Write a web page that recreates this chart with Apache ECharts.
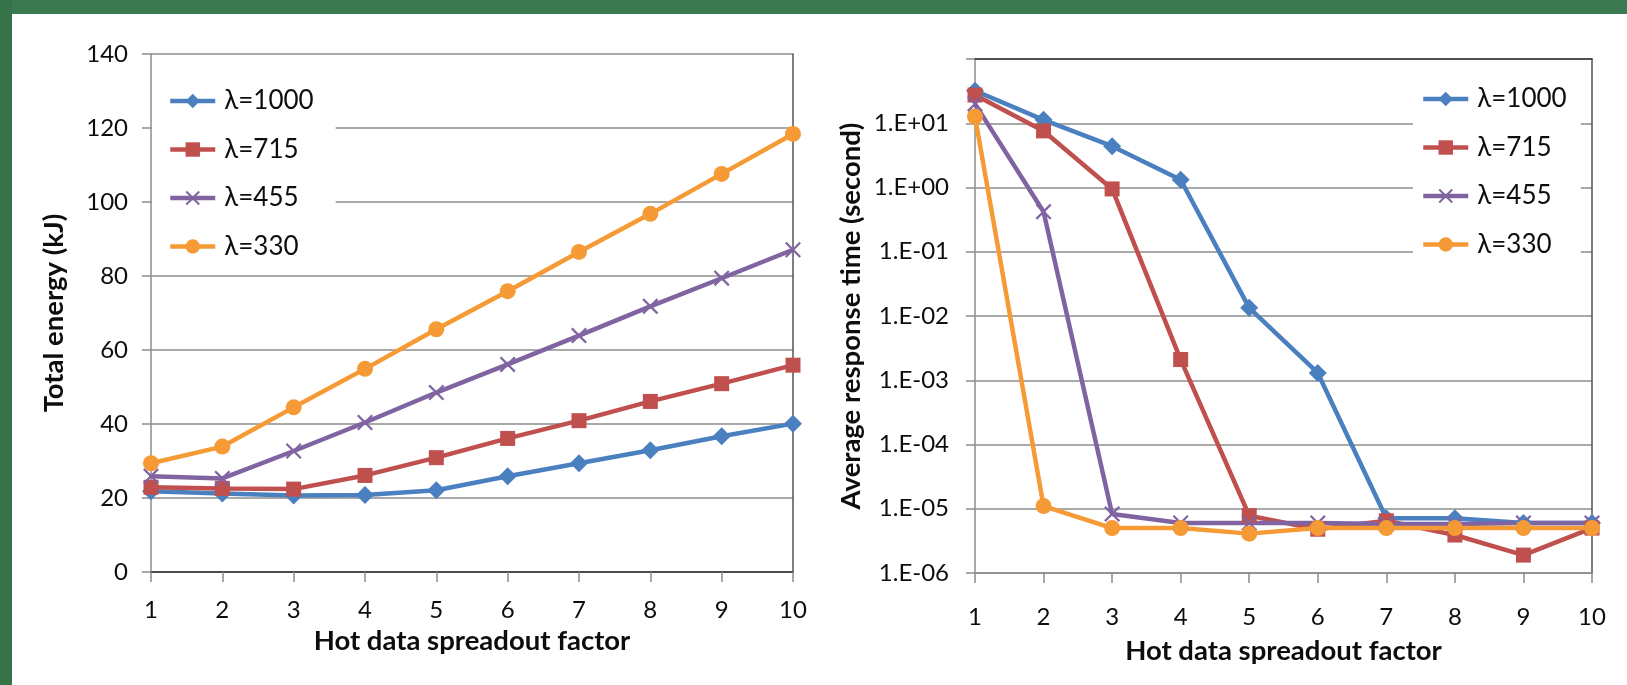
<!DOCTYPE html>
<html>
<head>
<meta charset="utf-8">
<script src="https://cdn.jsdelivr.net/npm/echarts@6/dist/echarts.min.js"></script>
<style>
  html, body { margin: 0; padding: 0; background: #fff; }
  #main { width: 1627px; height: 685px; }
</style>
</head>
<body>
<div id="main"></div>
<script>
// spreadout factor on x axis
const factors = ['1', '2', '3', '4', '5', '6', '7', '8', '9', '10'];
const seriesNames = ['λ=1000', 'λ=715', 'λ=455', 'λ=330'];

// total energy (kJ), left chart
const energy1000 = [21.8, 21.2, 20.7, 20.8, 22.1, 25.9, 29.4, 32.9, 36.7, 40.1];
const energy715 = [22.9, 22.6, 22.4, 26.1, 30.9, 36.1, 40.9, 46.1, 50.9, 55.9];
const energy455 = [25.9, 25.3, 32.7, 40.4, 48.5, 56.1, 63.9, 71.8, 79.4, 87.1];
const energy330 = [29.4, 33.9, 44.5, 54.9, 65.6, 75.9, 86.5, 96.8, 107.6, 118.4];

// average response time (second), right chart, log scale
const resp1000 = [32, 11.3, 4.4, 1.32, 0.0134, 0.0013, 7.1e-6, 7.1e-6, 6e-6, 6e-6];
const resp715 = [27.5, 7.6, 0.95, 0.0021, 7.8e-6, 4.8e-6, 6.5e-6, 3.9e-6, 1.9e-6, 5e-6];
const resp455 = [20, 0.42, 8.3e-6, 6e-6, 6e-6, 6e-6, 5.8e-6, 5.8e-6, 6e-6, 6e-6];
const resp330 = [12.7, 1.1e-5, 5e-6, 5e-6, 4.1e-6, 5e-6, 5e-6, 5e-6, 5e-6, 5e-6];

const energyTicks = { min: 0, max: 140, interval: 20 };
const respTicks = { min: 1e-6, max: 100 };

const colors = ['#4a7fc0', '#c0504d', '#8064a2', '#f59a35'];
const xMark = 'path://M1,0L5,4L9,0L10,1L6,5L10,9L9,10L5,6L1,10L0,9L4,5L0,1Z';
const symbols = ['diamond', 'rect', xMark, 'circle'];
const symbolSizes = [18, 15, 16, 16];

const font = 'Lato, "Noto Sans", sans-serif';
const gridGray = '#8c8c8c';
const textColor = '#0d0d0d';

function expLabel(v) {
  const e = Math.round(Math.log10(v));
  if (e >= 2) return '';
  const a = Math.abs(e);
  return '1.E' + (e < 0 ? '-' : '+') + (a < 10 ? '0' + a : a);
}

function bottomAxis(grid, labelMargin, nameGap) {
  return {
    gridIndex: grid,
    type: 'category',
    data: factors,
    boundaryGap: false,
    axisLine: { lineStyle: { color: gridGray, width: 1.5 } },
    axisTick: { show: true, length: 10, lineStyle: { color: gridGray, width: 1.5 } },
    axisLabel: { color: textColor, fontFamily: font, fontSize: 24, margin: labelMargin },
    name: 'Hot data spreadout factor',
    nameLocation: 'middle',
    nameGap: nameGap,
    nameTextStyle: { color: textColor, fontFamily: font, fontSize: 27.5, fontWeight: 'bold' }
  };
}

function topAxis(grid) {
  return {
    gridIndex: grid,
    type: 'category',
    data: factors,
    position: 'top',
    boundaryGap: false,
    axisLine: { lineStyle: { color: '#333', width: 1.5 } },
    axisTick: { show: false },
    axisLabel: { show: false }
  };
}

function rightAxis(grid, type, range) {
  return Object.assign({
    gridIndex: grid,
    type: type,
    position: 'right',
    axisLine: { show: true, lineStyle: { color: '#555', width: 1.5 } },
    axisTick: { show: false },
    axisLabel: { show: false },
    splitLine: { show: false }
  }, range);
}

function makeSeries(datas, xi, yi) {
  return datas.map(function (d, i) {
    return {
      name: seriesNames[i],
      type: 'line',
      xAxisIndex: xi,
      yAxisIndex: yi,
      data: d,
      symbol: symbols[i],
      symbolSize: symbolSizes[i],
      lineStyle: { width: 4.5, color: colors[i] },
      itemStyle: { color: colors[i] },
      animation: false
    };
  });
}

const legendBase = {
  orient: 'vertical',
  backgroundColor: '#fff',
  itemWidth: 45,
  itemHeight: 18,
  itemGap: 20.5,
  selectedMode: false,
  lineStyle: { width: 4.5 },
  textStyle: { color: textColor, fontFamily: font, fontSize: 26, lineHeight: 28, padding: [0, 0, 0, 4] },
  data: seriesNames,
  z: 3
};

const option = {
  animation: false,
  backgroundColor: '#fff',
  graphic: [
    { type: 'rect', left: 0, top: 0, shape: { width: 1627, height: 14 }, style: { fill: '#3b7a50' } },
    { type: 'rect', left: 0, top: 0, shape: { width: 12, height: 685 }, style: { fill: '#367349' } }
  ],
  grid: [
    { left: 151, top: 54, width: 642, height: 518 },
    { left: 975, top: 59, width: 617, height: 514 }
  ],
  legend: [
    Object.assign({}, legendBase, { left: 152, top: 77, padding: [10, 22, 10, 16] }),
    Object.assign({}, legendBase, { left: 1413, top: 75, padding: [10, 14, 10, 8] })
  ],
  xAxis: [
    bottomAxis(0, 26, 38),
    topAxis(0),
    bottomAxis(1, 32, 64),
    topAxis(1)
  ],
  yAxis: [
    {
      gridIndex: 0,
      type: 'value',
      min: energyTicks.min,
      max: energyTicks.max,
      interval: energyTicks.interval,
      axisLine: { show: true, lineStyle: { color: gridGray, width: 1.5 } },
      axisTick: { show: true, length: 9, lineStyle: { color: gridGray, width: 1.5 } },
      axisLabel: { color: textColor, fontFamily: font, fontSize: 24, margin: 23 },
      splitLine: { lineStyle: { color: gridGray, width: 1.5 } },
      name: 'Total energy (kJ)',
      nameLocation: 'middle',
      nameGap: 83,
      nameTextStyle: { color: textColor, fontFamily: font, fontSize: 27.5, fontWeight: 'bold' }
    },
    rightAxis(0, 'value', { min: energyTicks.min, max: energyTicks.max, interval: energyTicks.interval }),
    {
      gridIndex: 1,
      type: 'log',
      logBase: 10,
      min: respTicks.min,
      max: respTicks.max,
      axisLine: { show: true, lineStyle: { color: gridGray, width: 1.5 } },
      axisTick: { show: true, length: 9, lineStyle: { color: gridGray, width: 1.5 } },
      axisLabel: { color: textColor, fontFamily: font, fontSize: 24, margin: 26, formatter: expLabel },
      splitLine: { lineStyle: { color: gridGray, width: 1.5 } },
      minorTick: { show: false },
      name: 'Average response time (second)',
      nameLocation: 'middle',
      nameGap: 110,
      nameTextStyle: { color: textColor, fontFamily: font, fontSize: 27.5, fontWeight: 'bold' }
    },
    rightAxis(1, 'log', { logBase: 10, min: respTicks.min, max: respTicks.max })
  ],
  series: []
    .concat(makeSeries([energy1000, energy715, energy455, energy330], 0, 0))
    .concat(makeSeries([resp1000, resp715, resp455, resp330], 2, 2))
};

const chart = echarts.init(document.getElementById('main'));
chart.setOption(option);
</script>
</body>
</html>
